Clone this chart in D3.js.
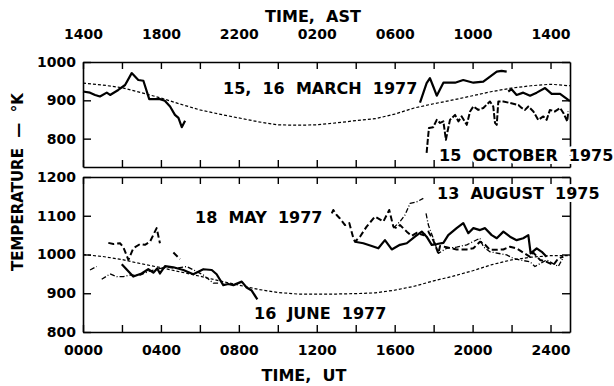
<!DOCTYPE html>
<html>
<head>
<meta charset="utf-8">
<script src="https://cdn.jsdelivr.net/npm/d3@7"></script>
<style>
  html, body { margin: 0; padding: 0; background: #fff; }
  svg { display: block; }
  text { font-family: "DejaVu Sans", sans-serif; font-weight: bold; fill: #000; }
</style>
</head>
<body>
<svg id="chart" width="614" height="386"></svg>
<script>
// Hours are UT (0 = 0000 UT = 1400 AST). Temperatures in kelvin.
const utTicks = [0, 2, 4, 6, 8, 10, 12, 14, 16, 18, 20, 22, 24];
const utLabels = {0: "0000", 4: "0400", 8: "0800", 12: "1200", 16: "1600", 20: "2000", 24: "2400"};
const astLabels = {0: "1400", 4: "1800", 8: "2200", 12: "0200", 16: "0600", 20: "1000", 24: "1400"};
const topTempTicks = [800, 900, 1000];
const bottomTempTicks = [800, 900, 1000, 1100, 1200];

// Upper panel: model curve
const modelUpper = [
  [0, 945], [1, 940], [2, 933], [3, 920], [4, 906], [5, 890], [6, 875], [7, 864], [8, 854],
  [9, 844], [10, 836], [11, 835], [12, 836], [13, 841], [14, 847], [15, 852], [16, 864],
  [17, 880], [18, 891], [19, 901], [20, 912], [21, 923], [22, 932], [23, 938], [24, 942], [25, 938]
];

// 15, 16 March 1977 (solid)
const march1977 = [
  [0.0, 923], [0.36, 920], [0.62, 914], [0.87, 910], [1.22, 920], [1.39, 914], [1.81, 927],
  [2.16, 940], [2.5, 971], [2.84, 953], [3.1, 951], [3.4, 903], [3.95, 903], [4.2, 899],
  [4.47, 884], [4.72, 862], [4.9, 854], [5.07, 830], [5.24, 847],
  null,
  [17.3, 894], [17.64, 945], [17.81, 958], [17.98, 936], [18.16, 912], [18.5, 946], [19.1, 946],
  [19.52, 953], [20.04, 946], [20.55, 949], [21.24, 975], [21.49, 977], [21.75, 975],
  null,
  [21.83, 923], [22.0, 929], [22.26, 914], [22.6, 920], [22.95, 912], [23.29, 920], [23.72, 932],
  [24.06, 917], [24.49, 917], [24.91, 901], [25.0, 899]
];

// 15 October 1975 (dashed)
const october1975 = [
  [17.64, 763], [17.7, 797], [17.76, 828], [17.98, 830], [18.16, 849], [18.33, 841], [18.5, 845],
  [18.63, 797], [18.71, 818], [18.84, 849], [19.1, 862], [19.27, 845], [19.44, 858], [19.7, 836],
  [19.87, 871], [20.04, 884], [20.29, 875], [20.55, 880], [20.89, 897], [21.06, 884], [21.15, 841],
  [21.24, 836], [21.32, 897], [21.58, 897], [21.92, 893], [22.35, 888], [22.52, 880], [22.69, 875],
  [22.86, 884], [23.12, 871], [23.37, 849], [23.63, 858], [23.8, 849], [23.97, 875], [24.23, 871],
  [24.49, 880], [24.66, 867], [24.86, 845], [24.91, 871]
];

// Lower panel: model curve
const modelLower = [
  [0, 1000], [1, 995], [2, 987], [3, 976], [4, 966], [5, 955], [6, 944], [7, 932], [8, 921],
  [9, 910], [10, 902], [11, 898], [12, 898], [13, 898], [14, 899], [15, 901], [16, 908],
  [17, 918], [18, 932], [19, 944], [20, 958], [21, 974], [22, 986], [23, 993], [24, 997], [25, 997]
];

// 18 May 1977 (dashed)
const may1977 = [
  [1.3, 1030], [1.56, 1027], [1.9, 1029], [2.07, 1019], [2.33, 986], [2.58, 1016], [2.93, 1027],
  [3.18, 1025], [3.44, 1033], [3.78, 1068], [3.95, 1029],
  null,
  [4.64, 1005], [4.98, 988],
  null,
  [12.77, 1106], [12.85, 1115], [13.02, 1102], [13.19, 1093], [13.45, 1076], [13.67, 1081],
  [13.88, 1042], [13.96, 1033], [14.22, 1046], [14.56, 1072], [14.99, 1098], [15.42, 1085],
  [15.72, 1115], [15.93, 1072], [16.1, 1068], [16.27, 1076], [16.62, 1059], [16.87, 1048],
  [17.13, 1056], [17.47, 1050], [17.73, 1059], [17.98, 1037], [18.24, 1003], [18.33, 1022],
  [18.67, 1019], [19.18, 1013], [19.7, 1013], [20.04, 1016], [20.38, 1033], [20.64, 1025],
  [20.89, 1012], [21.24, 1012], [21.58, 1013], [21.92, 1020], [22.26, 1016], [22.6, 1005],
  [22.95, 994], [23.12, 1005], [23.46, 986], [23.8, 981], [24.15, 973], [24.4, 990], [24.66, 994]
];

// 16 June 1977 (solid)
const june1977 = [
  [1.99, 975], [2.58, 943], [3.01, 951], [3.35, 962], [3.61, 953], [3.81, 964], [3.95, 951],
  [4.21, 970], [4.64, 967], [5.15, 960], [5.66, 949], [6.18, 962], [6.61, 960], [6.86, 949],
  [7.2, 921], [7.46, 924], [7.72, 921], [8.15, 930], [8.4, 915], [8.66, 907], [8.95, 884],
  null,
  [13.96, 1033], [14.39, 1029], [14.82, 1022], [15.16, 1016], [15.5, 1037], [15.85, 1013],
  [16.27, 1025], [16.62, 1029], [17.04, 1046], [17.39, 1059], [17.64, 1046], [17.9, 1025],
  [18.17, 1027], [18.5, 1030], [18.75, 1050], [19.18, 1068], [19.52, 1081], [19.78, 1055],
  [20.04, 1068], [20.38, 1063], [20.64, 1068], [20.98, 1050], [21.24, 1042], [21.58, 1059],
  [21.92, 1046], [22.26, 1037], [22.6, 1042], [22.86, 1050], [22.98, 1003], [23.29, 1016],
  [23.55, 1007], [23.8, 994]
];

// 13 August 1975 (thin dash-dot)
const august1975 = [
  [0.36, 960], [0.7, 969],
  null,
  [0.96, 936], [1.39, 950], [1.73, 943], [2.07, 943], [2.41, 947], [2.93, 947], [3.35, 956],
  [3.78, 962], [4.3, 967], [4.81, 965], [5.32, 969], [5.84, 956], [6.18, 947], [6.69, 926], [7.03, 926],
  null,
  [15.93, 1068], [16.27, 1085], [16.53, 1102], [16.79, 1132], [17.13, 1136], [17.47, 1145],
  null,
  [17.61, 1106], [17.73, 1076], [17.98, 1042], [18.24, 1003], [18.67, 1016], [19.18, 1019],
  [19.7, 1025], [20.38, 1042], [20.55, 1020], [20.89, 1007], [21.75, 999], [22.09, 990],
  [22.43, 986], [22.95, 981], [23.2, 969], [23.8, 986], [24.4, 969], [24.66, 993]
];

const svg = d3.select("#chart");

const x = d3.scaleLinear().domain([0, 25]).range([83, 570]);
const yTop = d3.scaleLinear().domain([726, 1000]).range([167, 62]);
const yBot = d3.scaleLinear().domain([800, 1200]).range([332, 177]);

function styleAxis(g, size) {
  g.attr("font-family", null).attr("font-size", null);
  g.selectAll(".domain").attr("stroke", "#000").attr("stroke-width", 1.6);
  g.selectAll(".tick line").attr("stroke", "#000").attr("stroke-width", 1.4);
  g.selectAll(".tick text").style("font-size", size + "px");
}

function frame(y, yTicks, showTopLabels, showBottomLabels) {
  const [y0, y1] = y.range(); // bottom, top
  const blank = () => "";

  const top = d3.axisTop(x).tickValues(utTicks).tickSizeInner(-7).tickSizeOuter(0)
    .tickPadding(23).tickFormat(showTopLabels ? d => astLabels[d] || "" : blank);
  svg.append("g").attr("transform", `translate(0,${y1})`).call(top).call(g => styleAxis(g, 14));

  const bottom = d3.axisBottom(x).tickValues(utTicks).tickSizeInner(-7).tickSizeOuter(0)
    .tickPadding(13).tickFormat(showBottomLabels ? d => utLabels[d] || "" : blank);
  svg.append("g").attr("transform", `translate(0,${y0})`).call(bottom).call(g => styleAxis(g, 14));

  const left = d3.axisLeft(y).tickValues(yTicks).tickSizeInner(-8).tickSizeOuter(0)
    .tickPadding(7).tickFormat(d => String(d));
  svg.append("g").attr("transform", `translate(${x.range()[0]},0)`).call(left).call(g => styleAxis(g, 14));

  const right = d3.axisRight(y).tickValues(yTicks).tickSizeInner(-8).tickSizeOuter(0).tickFormat(blank);
  svg.append("g").attr("transform", `translate(${x.range()[1]},0)`).call(right).call(g => styleAxis(g, 14));
}

frame(yTop, topTempTicks, true, false);
frame(yBot, bottomTempTicks, false, true);

function drawLine(data, y, width, dash) {
  const line = d3.line().defined(d => d !== null).x(d => x(d[0])).y(d => y(d[1]));
  svg.append("path")
    .datum(data)
    .attr("d", line)
    .attr("fill", "none")
    .attr("stroke", "#000")
    .attr("stroke-width", width)
    .attr("stroke-linejoin", "round")
    .attr("stroke-dasharray", dash);
}

// Upper panel
drawLine(modelUpper, yTop, 1.2, "3,2");
drawLine(march1977, yTop, 2.2, null);
drawLine(october1975, yTop, 2.0, "6,2");

// Lower panel
drawLine(modelLower, yBot, 1.2, "3,2");
drawLine(august1975, yBot, 1.3, "5,2,1,2");
drawLine(may1977, yBot, 2.0, "6,3");
drawLine(june1977, yBot, 2.2, null);

// Labels
function label(txt, xPos, yPos, size, anchor, halo) {
  const t = svg.append("text")
    .attr("x", xPos).attr("y", yPos)
    .attr("text-anchor", anchor || "start")
    .style("font-size", size + "px")
    .style("white-space", "pre")
    .text(txt);
  if (halo) {
    t.attr("stroke", "#fff").attr("stroke-width", 6).attr("paint-order", "stroke");
  }
  return t;
}

label("TIME,  AST", 313, 22, 16, "middle");
label("TIME,  UT", 304, 381, 16, "middle");
label("15,  16  MARCH  1977", 223, 94, 16, "start");
label("15  OCTOBER  1975", 439, 161, 16, "start", true);
label("18  MAY  1977", 195, 223, 16, "start");
label("13  AUGUST  1975", 437, 199, 16, "start", true);
label("16  JUNE  1977", 254, 319, 16, "start");

svg.append("text")
  .attr("transform", "translate(23,182) rotate(-90)")
  .attr("text-anchor", "middle")
  .style("font-size", "15px")
  .style("white-space", "pre")
  .text("TEMPERATURE  —  °K");
</script>
</body>
</html>
